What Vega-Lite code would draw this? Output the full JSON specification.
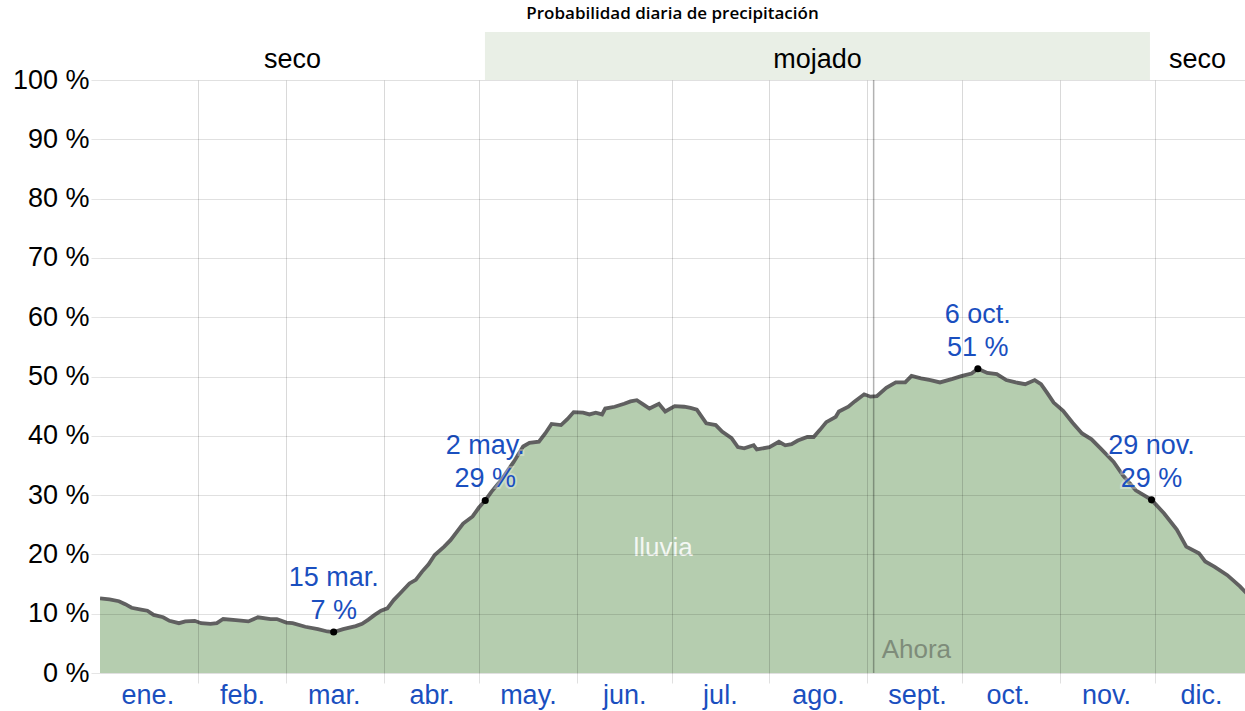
{
  "$schema": "https://vega.github.io/schema/vega-lite/v6.json",
  "width": 1145,
  "height": 593,
  "autosize": {"type": "none"},
  "padding": {"left": 100, "top": 80, "right": 0, "bottom": 38},
  "title": {"text": "Probabilidad diaria de precipitación", "font": "Open Sans", "fontSize": 17, "fontWeight": 600, "color": "#000000", "anchor": "middle", "offset": 9},
  "config": {"view": {"stroke": null}, "font": "Liberation Sans"},
  "datasets": {
    "rain": [
      {"d": 0, "p": 12.6}, {"d": 3, "p": 12.4}, {"d": 6, "p": 12.1}, {"d": 8, "p": 11.6}, {"d": 10, "p": 11.0},
      {"d": 13, "p": 10.7}, {"d": 15, "p": 10.5}, {"d": 17, "p": 9.8}, {"d": 20, "p": 9.4}, {"d": 22, "p": 8.8},
      {"d": 25, "p": 8.4}, {"d": 27, "p": 8.7}, {"d": 30, "p": 8.8}, {"d": 32, "p": 8.4}, {"d": 35, "p": 8.3},
      {"d": 37, "p": 8.4}, {"d": 39, "p": 9.1}, {"d": 43, "p": 8.9}, {"d": 47, "p": 8.7}, {"d": 50, "p": 9.4},
      {"d": 54, "p": 9.1}, {"d": 56, "p": 9.1}, {"d": 59, "p": 8.5}, {"d": 61, "p": 8.4}, {"d": 65, "p": 7.8},
      {"d": 69, "p": 7.4}, {"d": 72, "p": 7.0}, {"d": 74, "p": 6.9}, {"d": 77, "p": 7.4}, {"d": 81, "p": 7.9},
      {"d": 83, "p": 8.3}, {"d": 85, "p": 9.0}, {"d": 87, "p": 9.8}, {"d": 89, "p": 10.5}, {"d": 91, "p": 10.9},
      {"d": 93, "p": 12.3}, {"d": 95, "p": 13.4}, {"d": 98, "p": 15.1}, {"d": 100, "p": 15.7}, {"d": 102, "p": 17.1},
      {"d": 104, "p": 18.3}, {"d": 106, "p": 19.9}, {"d": 109, "p": 21.3}, {"d": 111, "p": 22.4}, {"d": 113, "p": 23.8},
      {"d": 115, "p": 25.2}, {"d": 118, "p": 26.4}, {"d": 120, "p": 27.9}, {"d": 122, "p": 29.1}, {"d": 124, "p": 30.6},
      {"d": 127, "p": 32.5}, {"d": 131, "p": 35.6}, {"d": 134, "p": 38.2}, {"d": 136, "p": 38.8}, {"d": 139, "p": 39.0},
      {"d": 141, "p": 40.4}, {"d": 143, "p": 42.0}, {"d": 146, "p": 41.8}, {"d": 148, "p": 42.8}, {"d": 150, "p": 44.0},
      {"d": 153, "p": 43.9}, {"d": 155, "p": 43.6}, {"d": 157, "p": 43.9}, {"d": 159, "p": 43.6}, {"d": 160, "p": 44.6},
      {"d": 163, "p": 44.9}, {"d": 166, "p": 45.4}, {"d": 168, "p": 45.8}, {"d": 170, "p": 46.0}, {"d": 172, "p": 45.3},
      {"d": 174, "p": 44.6}, {"d": 177, "p": 45.4}, {"d": 179, "p": 44.1}, {"d": 182, "p": 45.0}, {"d": 185, "p": 44.9},
      {"d": 187, "p": 44.7}, {"d": 189, "p": 44.4}, {"d": 192, "p": 42.1}, {"d": 195, "p": 41.8}, {"d": 197, "p": 40.7},
      {"d": 200, "p": 39.6}, {"d": 202, "p": 38.1}, {"d": 204, "p": 37.9}, {"d": 207, "p": 38.4}, {"d": 208, "p": 37.7},
      {"d": 212, "p": 38.1}, {"d": 215, "p": 39.0}, {"d": 217, "p": 38.4}, {"d": 219, "p": 38.6}, {"d": 221, "p": 39.2},
      {"d": 224, "p": 39.8}, {"d": 226, "p": 39.8}, {"d": 228, "p": 41.0}, {"d": 230, "p": 42.3}, {"d": 233, "p": 43.2},
      {"d": 234, "p": 44.1}, {"d": 237, "p": 44.9}, {"d": 239, "p": 45.8}, {"d": 242, "p": 47.0}, {"d": 244, "p": 46.6},
      {"d": 246, "p": 46.7}, {"d": 249, "p": 48.1}, {"d": 252, "p": 49.0}, {"d": 255, "p": 49.0}, {"d": 257, "p": 50.1},
      {"d": 260, "p": 49.7}, {"d": 263, "p": 49.4}, {"d": 266, "p": 49.0}, {"d": 270, "p": 49.6}, {"d": 273, "p": 50.1},
      {"d": 276, "p": 50.5}, {"d": 278, "p": 51.3}, {"d": 281, "p": 50.6}, {"d": 284, "p": 50.4}, {"d": 287, "p": 49.4},
      {"d": 290, "p": 49.0}, {"d": 293, "p": 48.7}, {"d": 296, "p": 49.4}, {"d": 298, "p": 48.7}, {"d": 300, "p": 47.2},
      {"d": 302, "p": 45.6}, {"d": 305, "p": 44.2}, {"d": 308, "p": 42.2}, {"d": 311, "p": 40.4}, {"d": 314, "p": 39.4},
      {"d": 317, "p": 37.8}, {"d": 321, "p": 35.6}, {"d": 324, "p": 33.3}, {"d": 328, "p": 30.8}, {"d": 333, "p": 29.2},
      {"d": 337, "p": 26.9}, {"d": 341, "p": 24.2}, {"d": 344, "p": 21.3}, {"d": 348, "p": 20.2}, {"d": 350, "p": 18.8},
      {"d": 353, "p": 17.9}, {"d": 357, "p": 16.5}, {"d": 361, "p": 14.6}, {"d": 363, "p": 13.5}, {"d": 364, "p": 13.0}
    ],
    "marks": [
      {"d": 74, "p": 6.9, "t": "15 mar.\n7 %"},
      {"d": 122, "p": 29.1, "t": "2 may.\n29 %"},
      {"d": 278, "p": 51.3, "t": "6 oct.\n51 %"},
      {"d": 333, "p": 29.2, "t": "29 nov.\n29 %"}
    ],
    "seasons": [
      {"s": 0, "e": 121.9, "mid": 60.95, "label": "seco", "wet": 0},
      {"s": 121.9, "e": 332.5, "mid": 227.2, "label": "mojado", "wet": 1},
      {"s": 332.5, "e": 362.6, "mid": 347.55, "label": "seco", "wet": 0}
    ],
    "now": [{"d": 245, "label": "Ahora", "p": 3.9}],
    "rainlabel": [{"d": 178.3, "p": 21.1, "label": "lluvia"}]
  },
  "resolve": {"axis": {"x": "independent"}},
  "layer": [
    {
      "data": {"name": "rain"},
      "mark": {"type": "area", "color": "#b5cdaf", "clip": true},
      "encoding": {
        "x": {"field": "d", "type": "quantitative", "scale": {"domain": [0, 362.6], "nice": false, "zero": false},
          "axis": {"orient": "bottom", "values": [31, 59, 90, 120, 151, 181, 212, 243, 273, 304, 334], "grid": true, "gridColor": "#000000", "gridOpacity": 0.15, "ticks": true, "tickSize": 10, "tickColor": "#000000", "tickOpacity": 0.12, "labels": false, "domain": false, "title": null, "zindex": 1}},
        "y": {"field": "p", "type": "quantitative", "scale": {"domain": [0, 100], "nice": false},
          "axis": {"values": [0, 10, 20, 30, 40, 50, 60, 70, 80, 90, 100], "labelExpr": "datum.value + ' %'", "labelFontSize": 27, "labelColor": "#000000", "labelFont": "Liberation Sans", "labelPadding": 2, "grid": true, "gridColor": "#000000", "gridOpacity": 0.12, "tickSize": 9, "tickColor": "#000000", "tickOpacity": 0.1, "domain": false, "title": null, "zindex": 1}}
      }
    },
    {
      "data": {"name": "rain"},
      "mark": {"type": "line", "color": "#606060", "strokeWidth": 3.8, "clip": true},
      "encoding": {
        "x": {"field": "d", "type": "quantitative",
          "axis": {"orient": "bottom", "values": [15, 45, 74, 105, 135.5, 166, 196.3, 227.4, 258.7, 287.5, 318.6, 348.7], "labelExpr": "['ene.','feb.','mar.','abr.','may.','jun.','jul.','ago.','sept.','oct.','nov.','dic.'][floor(datum.value/30.5)]", "labelFontSize": 27, "labelColor": "#1a4fbf", "labelFont": "Liberation Sans", "labelPadding": 9, "ticks": false, "tickSize": 0, "grid": false, "domain": false, "title": null}},
        "y": {"field": "p", "type": "quantitative", "title": null}
      }
    },
    {
      "data": {"name": "now"},
      "mark": {"type": "rule", "color": "#000000", "opacity": 0.3, "strokeWidth": 1.5},
      "encoding": {"x": {"field": "d", "type": "quantitative", "axis": null}}
    },
    {
      "data": {"name": "now"},
      "mark": {"type": "text", "align": "left", "baseline": "middle", "dx": 8, "fontSize": 26, "color": "#7e8c7a", "font": "Liberation Sans"},
      "encoding": {
        "x": {"field": "d", "type": "quantitative", "axis": null},
        "y": {"field": "p", "type": "quantitative", "title": null},
        "text": {"field": "label"}
      }
    },
    {
      "data": {"name": "rainlabel"},
      "mark": {"type": "text", "align": "center", "baseline": "middle", "fontSize": 26, "color": "#ffffff", "opacity": 0.85, "font": "Liberation Sans"},
      "encoding": {
        "x": {"field": "d", "type": "quantitative", "axis": null},
        "y": {"field": "p", "type": "quantitative", "title": null},
        "text": {"field": "label"}
      }
    },
    {
      "data": {"name": "seasons"},
      "transform": [{"filter": "datum.wet == 1"}],
      "mark": {"type": "rect", "color": "#e9efe6"},
      "encoding": {
        "x": {"field": "s", "type": "quantitative", "axis": null},
        "x2": {"field": "e"},
        "y": {"datum": 100},
        "y2": {"datum": 108.1}
      }
    },
    {
      "data": {"name": "seasons"},
      "mark": {"type": "text", "align": "center", "baseline": "middle", "fontSize": 27, "color": "#000000", "font": "Liberation Sans"},
      "encoding": {
        "x": {"field": "mid", "type": "quantitative", "axis": null},
        "y": {"datum": 103.3},
        "text": {"field": "label"}
      }
    },
    {
      "data": {"name": "marks"},
      "mark": {"type": "point", "filled": true, "color": "#000000", "size": 50, "opacity": 1},
      "encoding": {
        "x": {"field": "d", "type": "quantitative", "axis": null},
        "y": {"field": "p", "type": "quantitative", "title": null}
      }
    },
    {
      "data": {"name": "marks"},
      "mark": {"type": "text", "align": "center", "baseline": "bottom", "dy": -40, "lineBreak": "\n", "lineHeight": 33, "fontSize": 27, "color": "#ffffff", "stroke": "#ffffff", "strokeWidth": 4, "strokeOpacity": 0.55, "opacity": 0.55, "font": "Liberation Sans"},
      "encoding": {
        "x": {"field": "d", "type": "quantitative", "axis": null},
        "y": {"field": "p", "type": "quantitative", "title": null},
        "text": {"field": "t"}
      }
    },
    {
      "data": {"name": "marks"},
      "mark": {"type": "text", "align": "center", "baseline": "bottom", "dy": -40, "lineBreak": "\n", "lineHeight": 33, "fontSize": 27, "color": "#1a4fbf", "font": "Liberation Sans"},
      "encoding": {
        "x": {"field": "d", "type": "quantitative", "axis": null},
        "y": {"field": "p", "type": "quantitative", "title": null},
        "text": {"field": "t"}
      }
    }
  ]
}
